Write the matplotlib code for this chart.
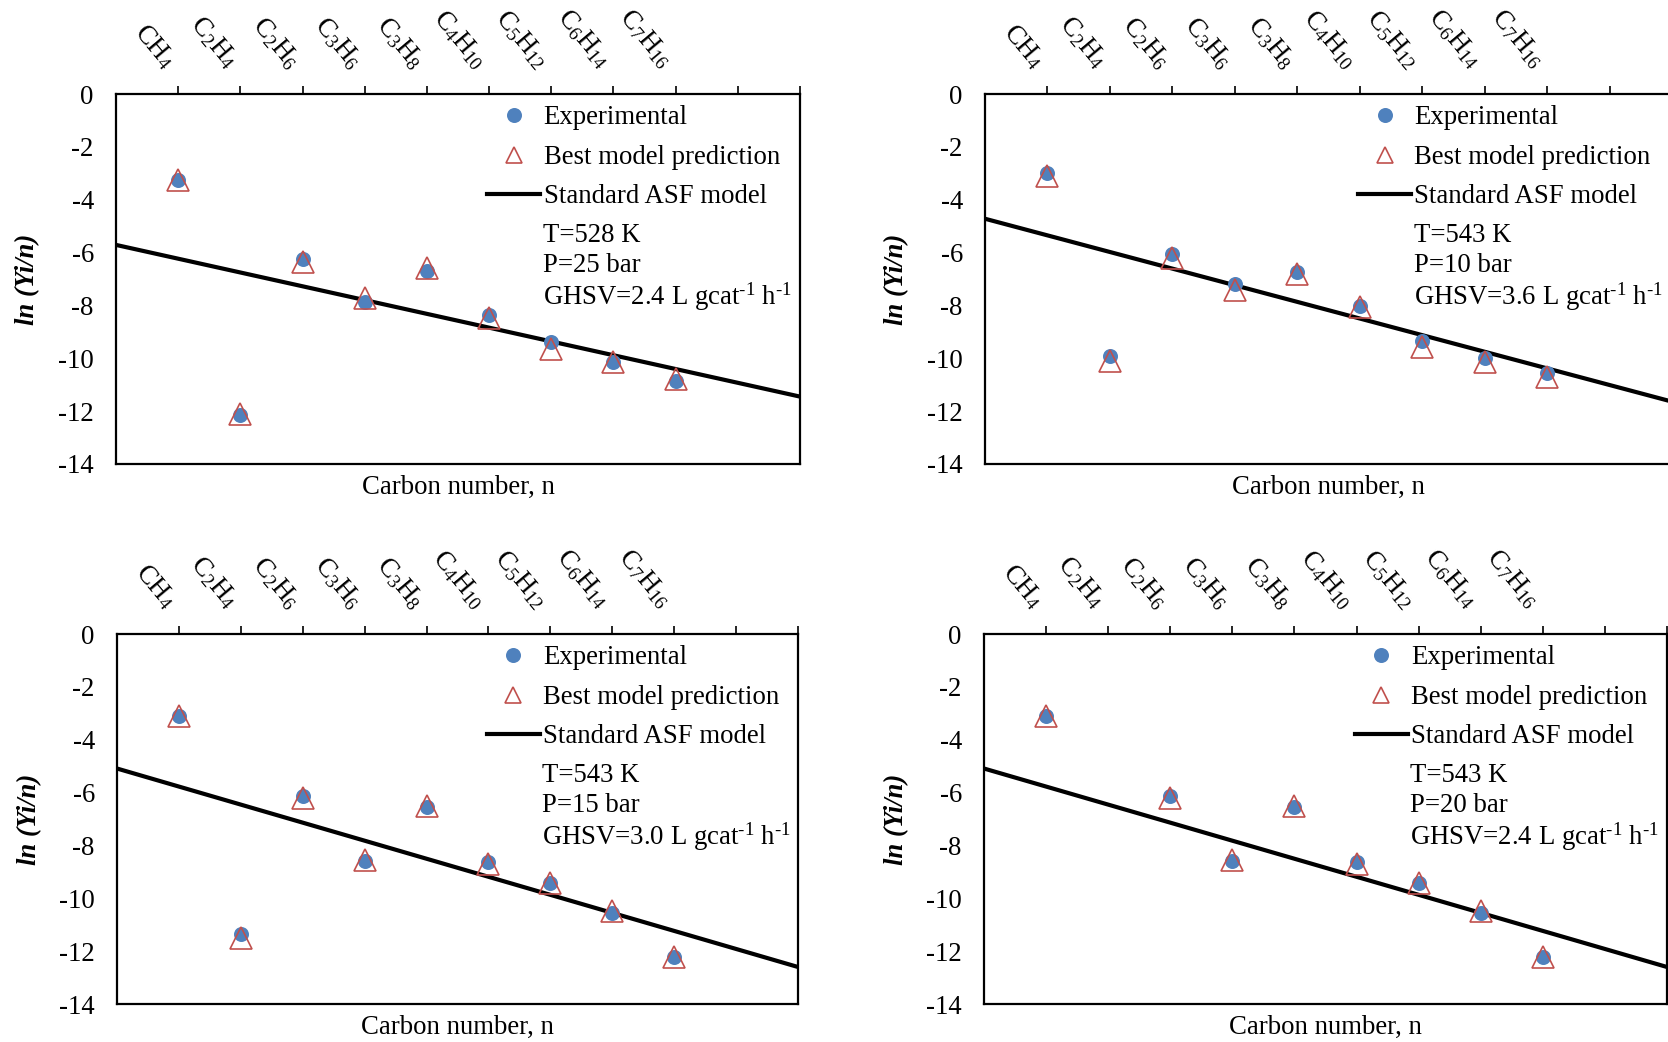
import numpy as np
import matplotlib
matplotlib.use("Agg")
import matplotlib.pyplot as plt
from matplotlib.lines import Line2D
from matplotlib.transforms import ScaledTranslation

plt.rcParams['font.family'] = ['Liberation Serif', 'DejaVu Serif']
plt.rcParams['mathtext.fontset'] = 'custom'
plt.rcParams['mathtext.rm'] = 'Liberation Serif'
plt.rcParams['mathtext.it'] = 'Liberation Serif:italic'
plt.rcParams['mathtext.bf'] = 'Liberation Serif:bold'
plt.rcParams['axes.unicode_minus'] = False

# ---------------- data ----------------
species = [r'$\mathregular{CH_4}$', r'$\mathregular{C_2H_4}$', r'$\mathregular{C_2H_6}$',
           r'$\mathregular{C_3H_6}$', r'$\mathregular{C_3H_8}$', r'$\mathregular{C_4H_{10}}$',
           r'$\mathregular{C_5H_{12}}$', r'$\mathregular{C_6H_{14}}$', r'$\mathregular{C_7H_{16}}$']

exp_a = [-3.25, -12.15, -6.23, -7.86, -6.70, -8.35, -9.40, -10.13, -10.86]
pred_a = [-3.25, -12.10, -6.37, -7.71, -6.57, -8.48, -9.64, -10.13, -10.80]
asf_a = [-5.71, -11.45]

exp_b = [-3.00, -9.91, -6.05, -7.19, -6.72, -8.02, -9.35, -9.98, -10.54]
pred_b = [-3.09, -10.10, -6.19, -7.43, -6.80, -8.07, -9.59, -10.15, -10.69]
asf_b = [-4.72, -11.64]

exp_c = [-3.09, -11.36, -6.14, -8.58, -6.56, -8.61, -9.41, -10.54, -12.22]
pred_c = [-3.09, -11.49, -6.19, -8.57, -6.51, -8.72, -9.43, -10.48, -12.21]
asf_c = [-5.09, -12.60]

exp_d = [-3.09, np.nan, -6.14, -8.58, -6.56, -8.61, -9.41, -10.54, -12.22]
pred_d = [-3.09, np.nan, -6.19, -8.57, -6.51, -8.72, -9.43, -10.48, -12.21]
asf_d = [-5.09, -12.60]

asf_x = [0, 11]

cond_T = ['T=528 K', 'T=543 K', 'T=543 K', 'T=543 K']
cond_P = ['P=25 bar', 'P=10 bar', 'P=15 bar', 'P=20 bar']
cond_G = ['2.4', '3.6', '3.0', '2.4']

panels = [(exp_a, pred_a, asf_a), (exp_b, pred_b, asf_b),
          (exp_c, pred_c, asf_c), (exp_d, pred_d, asf_d)]

# ---------------- layout ----------------
W, H = 1668, 1042
boxes = [(116, 94, 800, 464), (985, 94, 1672, 464),
         (117, 634, 798, 1004), (984, 634, 1667, 1004)]

BLUE = '#4F81BD'
RED = '#C0504D'
FS = 19.3

fig = plt.figure(figsize=(W / 100, H / 100), dpi=100)

for i, ((exp, pred, asf), (l, t, r, b)) in enumerate(zip(panels, boxes)):
    ax = fig.add_axes([l / W, 1 - b / H, (r - l) / W, (b - t) / H])
    x = np.arange(1, len(species) + 1)
    ax.plot(asf_x, asf, color='black', lw=3.0, solid_capstyle='butt', zorder=2)
    ax.plot(x, exp, ls='none', marker='o', ms=10.8, mfc=BLUE, mec=BLUE, mew=0, zorder=3)
    ax.plot(x, pred, ls='none', marker='^', ms=16.5, mfc='none', mec=RED, mew=1.2, zorder=4)

    ax.set_xlim(0, 11)
    ax.set_ylim(-14, 0)
    ax.set_yticks(np.arange(-14, 1, 2))
    ax.tick_params(axis='y', length=0, pad=16, labelsize=FS)
    ax.set_xticks(np.arange(1, 12))
    ax.set_xticklabels(species + ['', ''], fontsize=FS, rotation=-50,
                       ha='right', va='bottom', rotation_mode='anchor')
    ax.tick_params(axis='x', top=True, bottom=False, labeltop=True, labelbottom=False,
                   direction='out', length=5.8, width=1.2, pad=9)
    off = ScaledTranslation(-13 / 72, 0, fig.dpi_scale_trans)
    for lab in ax.get_xticklabels():
        lab.set_transform(lab.get_transform() + off)
    for s in ax.spines.values():
        s.set_linewidth(1.6)
        s.set_color('black')

    ax.text(0.5, -23 / 370, 'Carbon number, n', transform=ax.transAxes,
            ha='center', va='center', fontsize=FS)
    ax.text(-88 / 684, 0.5, 'ln (Yi/n)', transform=ax.transAxes, rotation=90,
            ha='center', va='center', fontsize=FS, fontweight='bold', style='italic')

    handles = [Line2D([], [], ls='none', marker='o', ms=10.8, mfc=BLUE, mec=BLUE, mew=0),
               Line2D([], [], ls='none', marker='^', ms=11.5, mfc='none', mec=RED, mew=1.2),
               Line2D([], [], color='black', lw=3.0)]
    ax.legend(handles, ['Experimental', 'Best model prediction', 'Standard ASF model'],
              loc='upper left', bbox_to_anchor=(0.543, 0.969), frameon=False,
              fontsize=FS, borderpad=0, borderaxespad=0, handlelength=1.98,
              handletextpad=0.12, labelspacing=0.54)

    ax.text(0.624, 1 - (235 - 94) / 370, cond_T[i], transform=ax.transAxes,
            ha='left', va='center', fontsize=FS)
    ax.text(0.624, 1 - (266 - 94) / 370, cond_P[i], transform=ax.transAxes,
            ha='left', va='center', fontsize=FS)
    ax.text(0.624, 1 - (297 - 94) / 370,
            'GHSV=' + cond_G[i] + r' L gcat$^{\text{-1}}$ h$^{\text{-1}}$',
            transform=ax.transAxes, ha='left', va='center', fontsize=FS)

fig.savefig('out.png', dpi=100)
